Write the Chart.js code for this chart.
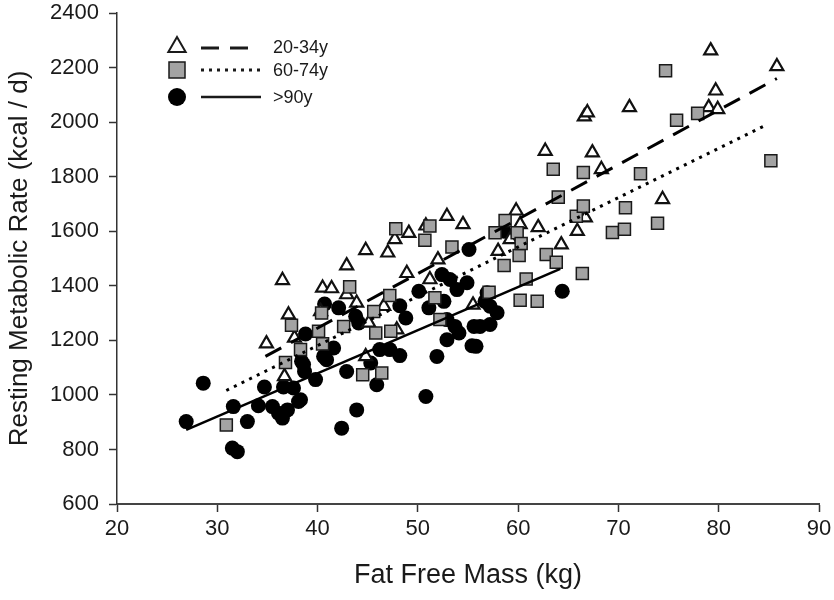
<!DOCTYPE html>
<html><head><meta charset="utf-8">
<script src="https://cdn.jsdelivr.net/npm/chart.js@4.4.1/dist/chart.umd.min.js"></script>
<style>html,body{margin:0;padding:0;background:#fff}</style>
</head><body>
<canvas id="c" width="834" height="600"></canvas>
<script>
// 20-34y (triangles)
const youngFFM = [34.9,36.5,37.1,37.7,36.7,40.3,40.5,41.4,42.9,42.9,43.9,44.8,44.8,45.1,46.6,47.0,47.7,47.9,48.9,49.1,50.8,51.2,52.0,52.9,54.5,55.5,58.0,59.2,59.8,60.2,62.0,62.7,64.3,65.9,66.7,66.6,66.9,67.4,68.3,71.1,74.4,79.0,79.2,79.7,79.9,85.8];
const youngRMR = [1188,1420,1294,1209,1068,1306,1392,1390,1474,1368,1337,1530,1141,1264,1325,1521,1570,1239,1446,1593,1620,1423,1496,1655,1625,1330,1527,1570,1675,1625,1614,1894,1551,1600,1650,2020,2035,1888,1827,2054,1717,2054,2262,2115,2047,2204];
// 60-74y (squares)
const midFFM = [30.9,36.8,37.4,38.3,40.1,40.4,40.5,42.6,43.2,44.5,45.6,45.8,46.4,47.2,47.3,47.8,50.7,51.2,51.7,52.2,53.4,57.1,57.7,58.6,58.7,59.9,60.1,60.3,60.2,60.8,61.9,62.8,63.5,63.8,64.0,65.8,66.4,66.5,66.5,69.4,70.6,70.7,72.2,73.9,74.7,75.8,77.9,85.2];
const midRMR = [890,1119,1255,1166,1233,1300,1187,1251,1396,1074,1306,1227,1080,1364,1233,1609,1567,1619,1356,1276,1542,1376,1594,1474,1639,1594,1511,1555,1347,1425,1343,1515,1827,1486,1725,1655,1445,1692,1815,1595,1607,1686,1811,1629,2188,2007,2032,1858];
// >90y (circles)
const oldFFM = [26.9,28.6,31.5,32.0,31.6,33.0,34.1,34.7,35.5,36.1,36.5,36.6,37.0,37.6,38.1,38.3,38.4,38.6,38.7,38.8,39.8,40.6,40.7,40.9,41.6,42.1,42.4,42.9,43.8,43.9,44.1,45.3,45.9,46.2,47.2,48.2,48.2,48.8,50.1,50.8,51.1,51.9,52.4,52.6,52.9,52.9,53.2,53.7,53.9,54.1,54.9,55.1,55.4,55.6,55.8,56.2,56.7,56.9,57.2,57.2,57.9,58.6,64.4];
const oldRMR = [902,1043,805,792,957,902,960,1029,957,933,915,1029,945,1025,976,982,1123,1111,1086,1223,1056,1141,1333,1129,1172,1319,878,1086,1288,945,1264,1117,1037,1166,1166,1144,1327,1282,1380,994,1319,1141,1441,1343,1276,1202,1423,1251,1386,1227,1411,1533,1180,1251,1178,1251,1343,1374,1325,1258,1301,1600,1380];
// regression line endpoints
const youngLineX = [34.8, 85.8], youngLineY = [1141, 2160];
const midLineX = [30.9, 84.7], midLineY = [1016, 1989];
const oldLineX = [26.9, 64.2], oldLineY = [872, 1462];
// axis ticks / labels
const xTicks = [20,30,40,50,60,70,80,90];
const yTicks = [600,800,1000,1200,1400,1600,1800,2000,2200,2400];
const legendLabels = ['20-34y','60-74y','>90y'];

const pts = (xs, ys) => xs.map((x, i) => ({x, y: ys[i]}));
const FONT = "'Liberation Sans', Arial, sans-serif";
const INK = '#1a1a1a';

const legendPlugin = {
  id: 'customLegend',
  afterDraw(chart) {
    const ctx = chart.ctx;
    const a = chart.chartArea;
    const mx = a.left + 60, lx0 = a.left + 84, lx1 = a.left + 140, tx = a.left + 156;
    const rows = [a.top + 34, a.top + 57, a.top + 84];
    ctx.save();
    // triangle
    let y = rows[0], r = 10;
    ctx.beginPath();
    ctx.moveTo(mx, y - r);
    ctx.lineTo(mx + r * Math.sin(2*Math.PI/3), y - r * Math.cos(2*Math.PI/3));
    ctx.lineTo(mx + r * Math.sin(4*Math.PI/3), y - r * Math.cos(4*Math.PI/3));
    ctx.closePath();
    ctx.fillStyle = '#fff'; ctx.fill();
    ctx.lineWidth = 2; ctx.strokeStyle = INK; ctx.stroke();
    ctx.beginPath(); ctx.setLineDash([18, 11]); ctx.lineWidth = 3;
    ctx.moveTo(lx0, y + 1); ctx.lineTo(lx1, y + 1); ctx.stroke();
    // square
    y = rows[1];
    ctx.setLineDash([]);
    ctx.fillStyle = '#a3a3a3'; ctx.fillRect(mx - 8, y - 8, 16, 16);
    ctx.lineWidth = 1.5; ctx.strokeRect(mx - 8, y - 8, 16, 16);
    ctx.beginPath(); ctx.setLineDash([3, 5]); ctx.lineWidth = 3;
    ctx.moveTo(lx0, y); ctx.lineTo(lx1 + 3, y); ctx.stroke();
    // circle
    y = rows[2];
    ctx.setLineDash([]);
    ctx.beginPath(); ctx.arc(mx, y, 9, 0, 2*Math.PI); ctx.fillStyle = '#000'; ctx.fill();
    ctx.beginPath(); ctx.lineWidth = 2.5;
    ctx.moveTo(lx0, y); ctx.lineTo(lx1 + 4, y); ctx.stroke();
    // labels
    ctx.fillStyle = INK;
    ctx.font = '18px ' + FONT;
    ctx.textBaseline = 'middle'; ctx.textAlign = 'left';
    legendLabels.forEach((t, i) => ctx.fillText(t, tx, rows[i] + 1));
    ctx.restore();
  }
};

new Chart(document.getElementById('c'), {
  type: 'scatter',
  data: {
    datasets: [
      {label: '20-34y line', data: pts(youngLineX, youngLineY), showLine: true, pointRadius: 0,
       borderColor: '#000', borderWidth: 3, borderDash: [18, 11], order: 0},
      {label: '60-74y line', data: pts(midLineX, midLineY), showLine: true, pointRadius: 0,
       borderColor: '#000', borderWidth: 3, borderDash: [3, 5.5], order: 0},
      {label: '>90y line', data: pts(oldLineX, oldLineY), showLine: true, pointRadius: 0,
       borderColor: '#000', borderWidth: 2.5, order: 0},
      {label: '60-74y', data: pts(midFFM, midRMR), pointStyle: 'rect', pointRadius: 8.5,
       backgroundColor: '#a3a3a3', borderColor: '#1a1a1a', borderWidth: 1.5, order: 1},
      {label: '20-34y', data: pts(youngFFM, youngRMR), pointStyle: 'triangle', pointRadius: 7.5,
       backgroundColor: '#fff', borderColor: '#111', borderWidth: 2.2, order: 2},
      {label: '>90y', data: pts(oldFFM, oldRMR), pointStyle: 'circle', pointRadius: 7.5,
       backgroundColor: '#000', borderColor: '#000', borderWidth: 0, order: 3}
    ]
  },
  options: {
    responsive: false,
    animation: false,
    events: [],
    layout: {padding: {top: 13, right: 15, left: 0, bottom: 0}},
    plugins: {legend: {display: false}, tooltip: {enabled: false}},
    scales: {
      x: {
        type: 'linear', min: 20, max: 90,
        afterBuildTicks: s => { s.ticks = xTicks.map(v => ({value: v})); },
        afterFit: s => { s.height = 96; s.paddingLeft = 0; s.paddingRight = 0; },
        ticks: {font: {size: 22, family: FONT}, color: INK, padding: 4, callback: v => String(v)},
        grid: {display: true, drawOnChartArea: false, drawTicks: true, tickLength: 8, tickColor: '#333', tickWidth: 1.5},
        border: {display: true, color: '#444', width: 2},
        title: {display: true, text: 'Fat Free Mass (kg)', color: INK,
                font: {size: 27, family: FONT}, padding: {top: 0, bottom: 8}}
      },
      y: {
        type: 'linear', min: 600, max: 2400,
        afterBuildTicks: s => { s.ticks = yTicks.map(v => ({value: v})); },
        afterFit: s => { s.width = 117; s.paddingTop = 0; s.paddingBottom = 0; },
        ticks: {font: {size: 22, family: FONT}, color: INK, padding: 10, callback: v => String(v)},
        grid: {display: true, drawOnChartArea: false, drawTicks: true, tickLength: 8, tickColor: '#333', tickWidth: 1.5},
        border: {display: true, color: '#333', width: 1.5},
        title: {display: true, text: 'Resting Metabolic Rate (kcal / d)', color: INK,
                font: {size: 26, family: FONT}, padding: {top: 4, bottom: 0}}
      }
    }
  },
  plugins: [legendPlugin]
});
</script>
</body></html>
